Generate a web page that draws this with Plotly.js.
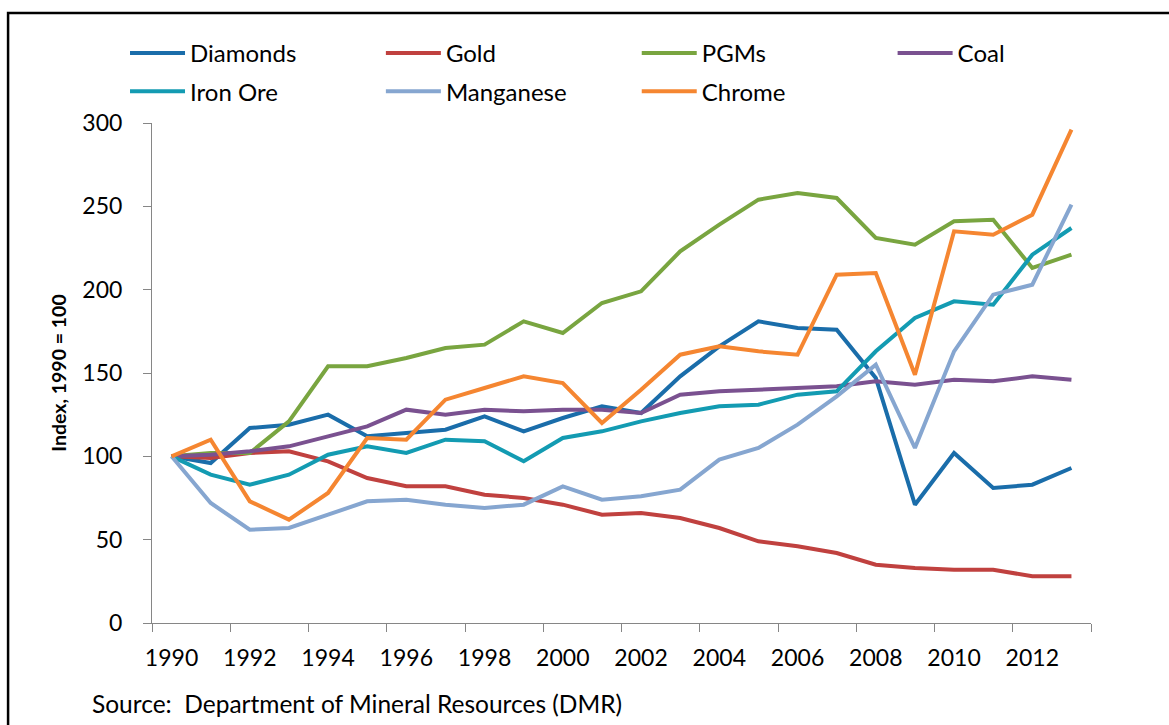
<!DOCTYPE html>
<html>
<head>
<meta charset="utf-8">
<script src="https://cdn.plot.ly/plotly-3.0.1.min.js"></script>
<style>
  html, body { margin: 0; padding: 0; background: #ffffff; }
  #chart { width: 1169px; height: 725px; }
</style>
</head>
<body>
<div id="chart"></div>
<script>
const years = [1990, 1991, 1992, 1993, 1994, 1995, 1996, 1997, 1998, 1999, 2000, 2001,
               2002, 2003, 2004, 2005, 2006, 2007, 2008, 2009, 2010, 2011, 2012, 2013];

const diamonds  = [100, 96, 117, 119, 125, 112, 114, 116, 124, 115, 123, 130, 126, 148, 166, 181, 177, 176, 147, 71, 102, 81, 83, 93];
const gold      = [100, 99, 102, 103, 97, 87, 82, 82, 77, 75, 71, 65, 66, 63, 57, 49, 46, 42, 35, 33, 32, 32, 28, 28];
const pgms      = [100, 102, 102, 121, 154, 154, 159, 165, 167, 181, 174, 192, 199, 223, 239, 254, 258, 255, 231, 227, 241, 242, 213, 221];
const coal      = [100, 101, 103, 106, 112, 118, 128, 125, 128, 127, 128, 128, 126, 137, 139, 140, 141, 142, 145, 143, 146, 145, 148, 146];
const ironOre   = [100, 89, 83, 89, 101, 106, 102, 110, 109, 97, 111, 115, 121, 126, 130, 131, 137, 139, 163, 183, 193, 191, 221, 237];
const manganese = [100, 72, 56, 57, 65, 73, 74, 71, 69, 71, 82, 74, 76, 80, 98, 105, 119, 136, 155, 105, 163, 197, 203, 251];
const chrome    = [100, 110, 73, 62, 78, 111, 110, 134, 141, 148, 144, 120, 140, 161, 166, 163, 161, 209, 210, 149, 235, 233, 245, 296];

const seriesNames = ['Diamonds', 'Gold', 'PGMs', 'Coal', 'Iron Ore', 'Manganese', 'Chrome'];
const seriesData  = [diamonds, gold, pgms, coal, ironOre, manganese, chrome];
const seriesColors = ['#1A6DAA', '#C0413F', '#79A540', '#7A5190', '#139BB2', '#86A6D0', '#F58631'];
const seriesLegend = ['legend', 'legend2', 'legend3', 'legend4', 'legend', 'legend2', 'legend3'];

const FONT = 'Lato, "Open Sans", sans-serif';

const traces = seriesNames.map((name, i) => ({
  type: 'scatter',
  mode: 'lines',
  name: name,
  x: years,
  y: seriesData[i],
  legend: seriesLegend[i],
  legendgroup: 'g' + i,
  line: { color: seriesColors[i], width: 4 },
  hoverinfo: 'x+y+name'
}));

// pixel -> paper helpers (plot area: x 152..1091.5, y 123..623)
const L = 152, R = 1091.5, T = 123, B = 623;
const px = v => (v - L) / (R - L);
const py = v => (B - v) / (B - T);

const legendBase = {
  orientation: 'v',
  xanchor: 'left',
  yanchor: 'top',
  y: py(31),
  bgcolor: 'rgba(0,0,0,0)',
  borderwidth: 0,
  font: { family: FONT, size: 24, color: '#000000' },
  itemwidth: 55,
  tracegroupgap: 4,
  traceorder: 'grouped'
};

const layout = {
  width: 1169,
  height: 725,
  margin: { l: L, r: 1169 - R, t: T, b: 725 - B, pad: 0 },
  paper_bgcolor: '#ffffff',
  plot_bgcolor: '#ffffff',
  font: { family: FONT, size: 23, color: '#000000' },
  showlegend: true,
  legend:  Object.assign({}, legendBase, { x: px(125) }),
  legend2: Object.assign({}, legendBase, { x: px(381) }),
  legend3: Object.assign({}, legendBase, { x: px(637) }),
  legend4: Object.assign({}, legendBase, { x: px(893) }),
  xaxis: {
    type: 'linear',
    range: [1989.5, 2013.5],
    tickmode: 'linear',
    tick0: 1990,
    dtick: 2,
    ticks: '',
    showgrid: false,
    zeroline: false,
    showline: true,
    linecolor: '#868686',
    linewidth: 1,
    tickfont: { family: FONT, size: 23, color: '#000000' },
    ticklabelstandoff: 14,
    minor: {
      tickmode: 'linear',
      tick0: 1989.5,
      dtick: 2,
      ticks: 'outside',
      ticklen: 8,
      tickwidth: 1,
      tickcolor: '#868686',
      showgrid: false
    },
    fixedrange: true
  },
  yaxis: {
    range: [0, 300],
    tickmode: 'linear',
    tick0: 0,
    dtick: 50,
    ticks: 'outside',
    ticklen: 8,
    tickwidth: 1,
    tickcolor: '#868686',
    showgrid: false,
    zeroline: false,
    showline: true,
    linecolor: '#868686',
    linewidth: 1,
    tickfont: { family: FONT, size: 23, color: '#000000' },
    ticklabelstandoff: 16,
    title: {
      text: '<b>Index, 1990 = 100</b>',
      font: { family: FONT, size: 19.5, color: '#000000' },
      standoff: 10
    },
    automargin: false,
    fixedrange: true
  },
  shapes: [
    {
      type: 'rect', xref: 'paper', yref: 'paper',
      x0: px(8), x1: px(1200), y0: py(760), y1: py(13),
      line: { color: '#000000', width: 2.5 },
      fillcolor: 'rgba(0,0,0,0)',
      layer: 'below'
    }
  ],
  annotations: [
    {
      xref: 'paper', yref: 'paper',
      x: px(90), y: py(703),
      xanchor: 'left', yanchor: 'middle',
      showarrow: false,
      text: 'Source:  Department of Mineral Resources (DMR)',
      font: { family: FONT, size: 24.5, color: '#000000' }
    }
  ]
};

Plotly.newPlot('chart', traces, layout, { displayModeBar: false, staticPlot: true });
</script>
</body>
</html>
